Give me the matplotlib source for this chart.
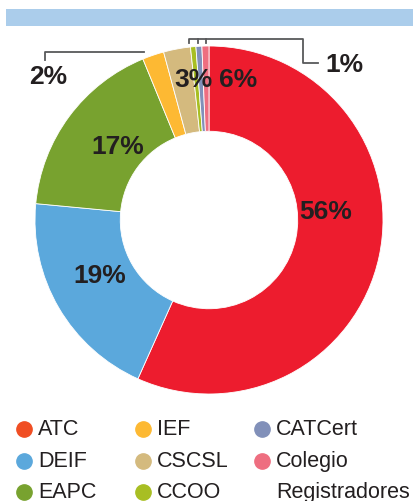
import matplotlib.pyplot as plt

# slice data, clockwise from 12 o'clock
names = ["ATC", "DEIF", "EAPC", "IEF", "CSCSL", "CCOO", "CATCert", "Colegio\nRegistradores"]
shares = [56.7, 19.8, 17.3, 2.0, 2.5, 0.5, 0.55, 0.65]
slice_colors = ["#ED1C2E", "#5BA8DC", "#78A22F", "#FDB933", "#D4BA7E", "#A8BE23", "#8190B9", "#EE6E80"]

# legend (column-major order, as shown)
legend_names = ["ATC", "DEIF", "EAPC", "IEF", "CSCSL", "CCOO", "CATCert", "Colegio\nRegistradores"]
legend_colors = ["#F04E23", "#5BA8DC", "#78A22F", "#FDB933", "#D4BA7E", "#A8BE23", "#8190B9", "#EE6E80"]

plt.rcParams["font.family"] = ["Liberation Sans", "DejaVu Sans"]

W, H = 414, 502
fig = plt.figure(figsize=(W / 100, H / 100), dpi=100)


def px(x, y):
    # pixel position (top-left origin) -> figure fraction
    return x / W, 1 - y / H


# light blue band at the top
band = plt.Rectangle(px(6, 27), (W - 6) / W, 17 / H, transform=fig.transFigure,
                     color="#ABCDEB", lw=0)
fig.patches.append(band)

# donut
cx, cy, r = 209, 221, 174
ax = fig.add_axes([(cx - r) / W, (H - cy - r) / H, 2 * r / W, 2 * r / H])
ax.pie(shares, colors=slice_colors, startangle=90, counterclock=False,
       wedgeprops=dict(width=0.49, edgecolor="white", linewidth=0.6))
ax.set_xlim(-1, 1)
ax.set_ylim(-1, 1)
ax.set_aspect("equal")
ax.axis("off")

# percentage labels
lab_kw = dict(fontsize=19, fontweight="bold", color="#231F20", ha="center", va="center",
              transform=fig.transFigure)
fig.text(*px(326, 212), "56%", **lab_kw)
fig.text(*px(100, 276), "19%", **lab_kw)
fig.text(*px(118, 147), "17%", **lab_kw)
fig.text(*px(48, 77), "2%", **lab_kw)
fig.text(*px(193, 80), "3%", **lab_kw)
fig.text(*px(238, 80), "6%", **lab_kw)
fig.text(*px(344, 65), "1%", **lab_kw)

# leader lines
line_kw = dict(color="#58595B", lw=1.3, transform=fig.transFigure)


def seg(pts):
    xs, ys = zip(*[px(x, y) for x, y in pts])
    fig.add_artist(plt.Line2D(xs, ys, **line_kw))


seg([(45, 61), (45, 53), (144, 53)])
seg([(189, 44), (189, 39.5), (303, 39.5), (303, 64), (318, 64)])
seg([(198, 44), (198, 39.5)])
seg([(206, 44), (206, 39.5)])

# legend
col_x = [24, 143, 262]
row_y = [430, 462, 493]
for i, (nm, c) in enumerate(zip(legend_names, legend_colors)):
    col, row = divmod(i, 3)
    x, y = col_x[col], row_y[row]
    mx, my = px(x, y)
    fig.add_artist(plt.Line2D([mx], [my], marker="o", markersize=11, color=c, lw=0,
                              transform=fig.transFigure))
    for k, part in enumerate(nm.split("\n")):
        fig.text(*px(x + 14, y + k * 31), part, fontsize=15.5, color="#231F20",
                 ha="left", va="center", transform=fig.transFigure)

fig.savefig("out.png", dpi=100)
